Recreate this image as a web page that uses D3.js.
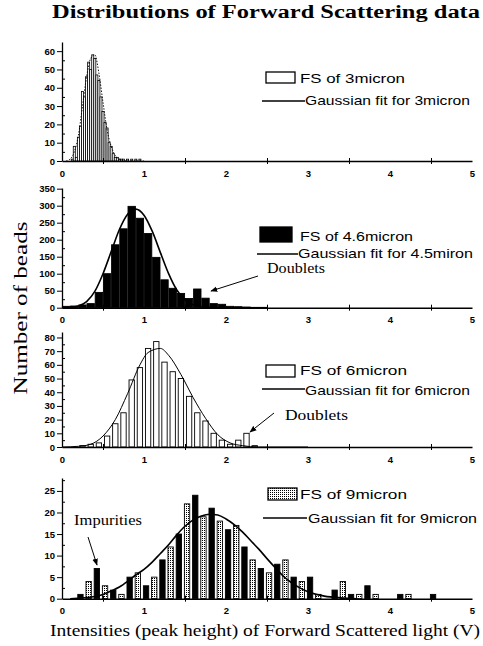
<!DOCTYPE html>
<html>
<head>
<meta charset="utf-8">
<script src="https://cdn.jsdelivr.net/npm/d3@7"></script>
<style>
body { margin: 0; background: #fff; }
.tick text { font-family: "Liberation Sans", Arial, sans-serif; font-weight: bold; font-size: 9.5px; }
.serif { font-family: "Liberation Serif", "Times New Roman", serif; }
.sans { font-family: "Liberation Sans", Arial, sans-serif; }
</style>
</head>
<body>
<script>
// shared x axis
var xLabels = [0, 1, 2, 3, 4, 5];
var xTickMarks = [0.5, 1.5, 2.5, 3.5, 4.5];

// FS of 3micron (bin width 0.025)
var fs3Bins = [0.125, 0.15, 0.175, 0.2, 0.225, 0.25, 0.275, 0.3, 0.325, 0.35, 0.375, 0.4, 0.425, 0.45, 0.475,
               0.5, 0.525, 0.55, 0.575, 0.6, 0.625, 0.65, 0.675, 0.7, 0.725, 0.75, 0.8, 0.85, 0.9, 0.95];
var fs3Counts = [1, 8, 2, 13, 19, 38, 35, 46, 54, 50, 58, 56, 47, 44, 35,
                 27, 21, 18, 10, 8, 4, 2, 2, 1, 1, 1, 1, 1, 1, 1];
var fit3X = [0.05, 0.1, 0.15, 0.2, 0.25, 0.3, 0.35, 0.4, 0.45, 0.5, 0.55, 0.6, 0.65, 0.7, 0.8, 1.0];
var fit3Y = [0, 1, 5, 14, 30, 46, 56, 58, 48, 32, 17, 8, 3, 1, 0, 0];

// FS of 4.6micron (bin width 0.1)
var fs46Bins = [0.05, 0.15, 0.25, 0.35, 0.45, 0.55, 0.65, 0.75, 0.85, 0.95, 1.05, 1.15, 1.25,
                1.35, 1.45, 1.55, 1.65, 1.75, 1.85, 1.95, 2.05, 2.15, 2.25, 2.35, 2.45];
var fs46Counts = [4, 5, 8, 12, 45, 100, 185, 232, 298, 263, 218, 148, 82,
                  57, 42, 27, 55, 28, 12, 10, 4, 3, 2, 1, 1];
var fit45X = [0, 0.1, 0.2, 0.3, 0.4, 0.5, 0.6, 0.7, 0.8, 0.9, 1.0, 1.1, 1.2, 1.3, 1.4, 1.5, 1.6, 1.7, 1.8, 2.0, 2.5];
var fit45Y = [0, 1, 5, 18, 48, 100, 165, 230, 275, 290, 272, 225, 162, 100, 52, 23, 9, 3, 1, 0, 0];

// FS of 6micron (bin width 0.1)
var fs6Bins = [0.25, 0.35, 0.45, 0.55, 0.65, 0.75, 0.85, 0.95, 1.05, 1.15, 1.25, 1.35, 1.45,
               1.55, 1.65, 1.75, 1.85, 1.95, 2.05, 2.15, 2.25, 2.35];
var fs6Counts = [1, 2, 3, 8, 17, 25, 49, 58, 72, 77, 62, 55, 50,
                 37, 25, 19, 10, 5, 2, 5, 10, 1];
var fit6X = [0, 0.2, 0.35, 0.5, 0.65, 0.8, 0.95, 1.05, 1.2, 1.3, 1.45, 1.6, 1.75, 1.9, 2.05, 2.2, 2.4, 3.0];
var fit6Y = [0, 0.5, 2, 8, 20, 39, 60, 69, 72, 67, 53, 36, 21, 9, 3, 1, 0, 0];

// FS of 9micron (bin width 0.1)
var fs9Bins = [0.225, 0.325, 0.425, 0.525, 0.625, 0.725, 0.825, 0.925, 1.025, 1.125, 1.225, 1.325, 1.425,
               1.525, 1.625, 1.725, 1.825, 1.925, 2.025, 2.125, 2.225, 2.325, 2.425, 2.525, 2.625,
               2.725, 2.825, 2.925, 3.025, 3.125, 3.325, 3.425, 3.525, 3.625, 3.725, 3.825, 4.125, 4.225, 4.525];
var fs9Counts = [1, 4, 7, 3, 2, 1, 5, 6, 3, 5, 9, 12, 15,
                 22, 24, 19, 21, 18, 16, 17, 12, 9, 7, 6, 8,
                 9, 5, 4, 5, 1, 2, 4, 1, 1, 3, 1, 1, 1, 1];
var fit9X = [0.1, 0.4, 0.5, 0.6, 0.7, 0.8, 0.9, 1.0, 1.1, 1.2, 1.3, 1.4, 1.5, 1.6, 1.7, 1.8, 1.9, 2.0,
             2.1, 2.2, 2.3, 2.4, 2.5, 2.6, 2.7, 2.8, 2.9, 3.0, 3.1, 3.2, 3.4, 3.6];
var fit9Y = [0, 0.5, 1, 1.8, 2.7, 4, 5.5, 6.8, 8.5, 10.5, 12.5, 14.8, 16.8, 18.3, 19.2, 19.6, 19.4, 18.5,
             17.2, 15.5, 13.5, 11.5, 9.3, 7.2, 5.2, 3.7, 2.5, 1.6, 1, 0.6, 0.2, 0];

var width = 483, height = 646;

var svg = d3.select("body").append("svg")
    .attr("width", width)
    .attr("height", height);

var defs = svg.append("defs");
var pat = defs.append("pattern").attr("id", "speckle")
    .attr("width", 2).attr("height", 2).attr("patternUnits", "userSpaceOnUse");
pat.append("rect").attr("width", 2).attr("height", 2).attr("fill", "#fff");
pat.append("rect").attr("width", 1).attr("height", 1).attr("fill", "#000");

defs.append("marker").attr("id", "arrow")
    .attr("viewBox", "0 0 10 10").attr("refX", 9).attr("refY", 5)
    .attr("markerWidth", 7).attr("markerHeight", 7).attr("orient", "auto")
  .append("path").attr("d", "M0,1 L10,5 L0,9 Z").attr("fill", "#000");

var x = d3.scaleLinear().domain([0, 5]).range([62, 472]);

var panels = [
  {bins: fs3Bins, counts: fs3Counts, barW: 0.025, fx: fit3X, fy: fit3Y, yMax: 65, step: 10, top: 60,
   base: 161, ceil: 42, style: "open", dash: "1.5,1.5", lw: 0.9,
   lab1: "FS of 3micron", lab2: "Gaussian fit for 3micron",
   box: [266, 72, 29, 11], t1: [300, 83, 105], ln: [262, 305, 101], t2: [305, 105, 165]},
  {bins: fs46Bins, counts: fs46Counts, barW: 0.09, fx: fit45X, fy: fit45Y, yMax: 352, step: 50, top: 350,
   base: 307.7, ceil: 188, style: "solid", dash: null, lw: 1.6,
   lab1: "FS of 4.6micron", lab2: "Gaussian fit for 4.5miron",
   box: [260, 227, 32, 15], t1: [300, 241, 113], ln: [257, 298, 254], t2: [298, 258, 175]},
  {bins: fs6Bins, counts: fs6Counts, barW: 0.065, fx: fit6X, fy: fit6Y, yMax: 84, step: 10, top: 80,
   base: 447, ceil: 332, style: "open", dash: null, lw: 1,
   lab1: "FS of 6micron", lab2: "Gaussian fit for 6micron",
   box: [266, 365, 29, 12], t1: [300, 375, 107], ln: [262, 305, 389], t2: [305, 395, 165]},
  {bins: fs9Bins, counts: fs9Counts, barW: 0.065, fx: fit9X, fy: fit9Y, yMax: 28, step: 5, top: 25,
   base: 598.7, ceil: 478, style: "speckle", dash: null, lw: 1.6,
   lab1: "FS of 9micron", lab2: "Gaussian fit for 9micron",
   box: [268, 488, 29, 12], t1: [300, 499, 107], ln: [263, 307, 518], t2: [308, 523, 169]}
];

panels.forEach(function(p) {
  var y = d3.scaleLinear().domain([0, p.yMax]).range([p.base, p.ceil]);
  var g = svg.append("g");

  // bars
  g.selectAll(".bar")
      .data(p.bins)
    .enter().append("rect")
      .attr("x", function(d) { return x(d - p.barW / 2); })
      .attr("width", x(p.barW) - x(0))
      .attr("y", function(d, i) { return y(p.counts[i]); })
      .attr("height", function(d, i) { return p.base - y(p.counts[i]); })
      .attr("fill", function(d, i) {
        if (p.style == "solid") return "#000";
        if (p.style == "speckle") return i % 2 ? "url(#speckle)" : "#000";
        return "#fff";
      })
      .attr("stroke", "#000")
      .attr("stroke-width", p.style == "open" && p.barW < 0.05 ? 0.8 : 0.9);

  // gaussian fit
  var fit = p.fx.map(function(v, i) { return [v, p.fy[i]]; });
  g.append("path")
      .datum(fit)
      .attr("fill", "none")
      .attr("stroke", "#000")
      .attr("stroke-width", p.lw)
      .attr("stroke-dasharray", p.dash)
      .attr("d", d3.line()
          .x(function(d) { return x(d[0]); })
          .y(function(d) { return y(d[1]); })
          .curve(d3.curveMonotoneX));

  // y axis
  g.append("g")
      .attr("transform", "translate(62,0)")
      .call(d3.axisLeft(y).tickValues(d3.range(0, p.top + 1, p.step)).tickSize(5).tickSizeOuter(0).tickPadding(2))
      .call(function(a) { a.select(".domain").attr("stroke-width", 1.3); });
  g.append("g")
      .attr("transform", "translate(62,0)")
      .call(d3.axisRight(y).tickValues(d3.range(p.step / 2, p.yMax, p.step)).tickSize(3).tickFormat(""))
      .call(function(a) { a.select(".domain").remove(); });

  // x axis: line, tick marks at half units, labels at whole units
  g.append("g")
      .attr("transform", "translate(0," + p.base + ")")
      .call(d3.axisBottom(x).tickValues(xTickMarks).tickSize(3).tickSizeOuter(0).tickFormat(""))
      .call(function(a) {
        a.select(".domain").attr("stroke-width", 1.5);
        a.selectAll(".tick line").attr("y1", -3);
      });
  g.append("g")
      .attr("transform", "translate(0," + p.base + ")")
      .call(d3.axisBottom(x).tickValues(xLabels).tickSize(0).tickPadding(9).tickFormat(d3.format("d")))
      .call(function(a) { a.select(".domain").remove(); });

  // legend
  g.append("rect")
      .attr("x", p.box[0]).attr("y", p.box[1]).attr("width", p.box[2]).attr("height", p.box[3])
      .attr("stroke", "#000").attr("stroke-width", 1.3)
      .attr("fill", p.style == "solid" ? "#000" : (p.style == "speckle" ? "url(#speckle)" : "#fff"));
  g.append("text").attr("class", "sans")
      .attr("x", p.t1[0]).attr("y", p.t1[1])
      .attr("textLength", p.t1[2]).attr("lengthAdjust", "spacingAndGlyphs")
      .style("font-size", "13px").text(p.lab1);
  g.append("line")
      .attr("x1", p.ln[0]).attr("x2", p.ln[1]).attr("y1", p.ln[2]).attr("y2", p.ln[2])
      .attr("stroke", "#000").attr("stroke-width", 1.6);
  g.append("text").attr("class", "sans")
      .attr("x", p.t2[0]).attr("y", p.t2[1])
      .attr("textLength", p.t2[2]).attr("lengthAdjust", "spacingAndGlyphs")
      .style("font-size", "13px").text(p.lab2);
});

// annotations
function note(txt, tx, ty, len, a) {
  svg.append("text").attr("class", "serif")
      .attr("x", tx).attr("y", ty)
      .attr("textLength", len).attr("lengthAdjust", "spacingAndGlyphs")
      .style("font-size", "15px").text(txt);
  svg.append("line")
      .attr("x1", a[0]).attr("y1", a[1]).attr("x2", a[2]).attr("y2", a[3])
      .attr("stroke", "#000").attr("stroke-width", 1)
      .attr("marker-end", "url(#arrow)");
}
note("Doublets", 267, 273, 58, [258, 276, 211, 291]);
note("Doublets", 285, 420, 63, [274, 413, 250, 432]);
note("Impurities", 74, 525, 68, [88, 537, 97, 565]);

// titles
svg.append("text").attr("class", "serif")
    .attr("x", 52).attr("y", 18)
    .attr("textLength", 428).attr("lengthAdjust", "spacingAndGlyphs")
    .style("font-size", "18px").style("font-weight", "bold")
    .text("Distributions of Forward Scattering data");

svg.append("text").attr("class", "serif")
    .attr("x", 50).attr("y", 636)
    .attr("textLength", 430).attr("lengthAdjust", "spacingAndGlyphs")
    .style("font-size", "16px")
    .text("Intensities (peak height) of Forward Scattered light (V)");

svg.append("text").attr("class", "serif")
    .attr("transform", "translate(27,308) rotate(-90)")
    .attr("text-anchor", "middle")
    .attr("textLength", 173).attr("lengthAdjust", "spacingAndGlyphs")
    .style("font-size", "19px")
    .text("Number of beads");
</script>
</body>
</html>
